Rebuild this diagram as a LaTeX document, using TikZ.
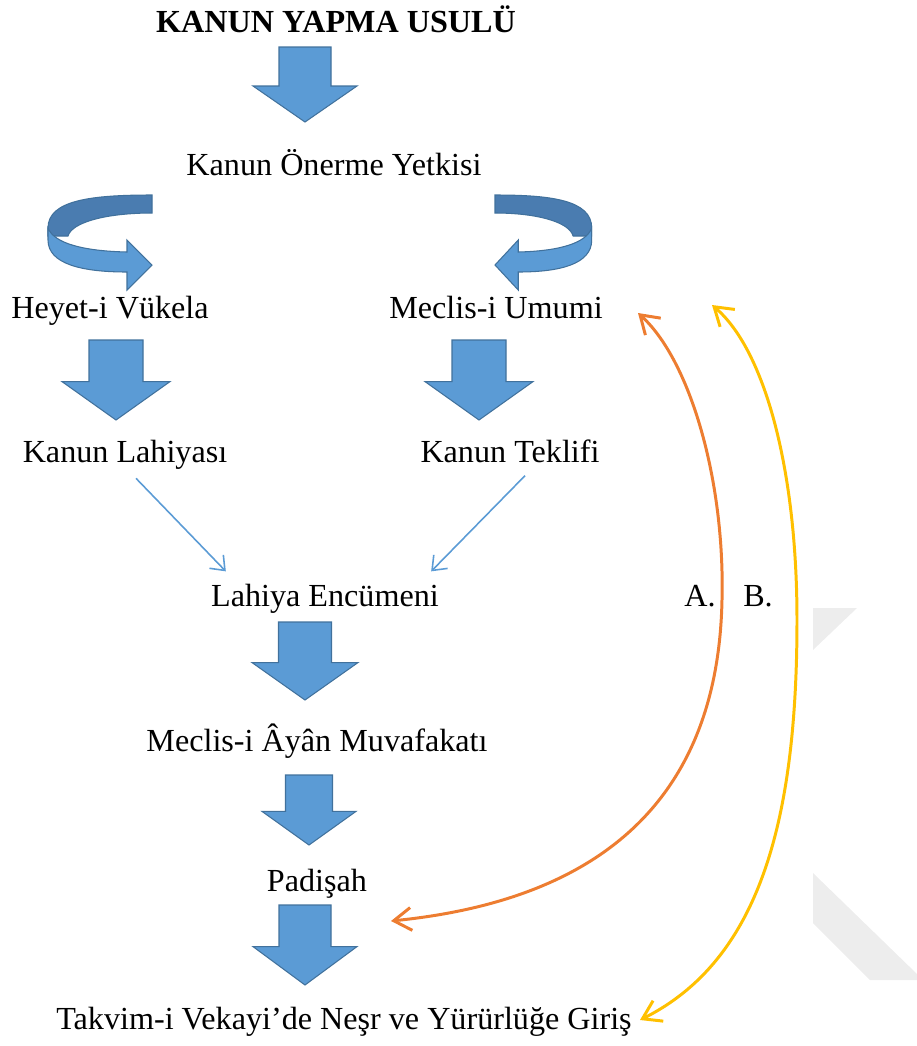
\documentclass[tikz,border=0pt]{standalone}
\usepackage{fontspec}
\setmainfont{Liberation Serif}
\usetikzlibrary{arrows.meta,calc}
\definecolor{officeblue}{HTML}{5B9BD5}
\definecolor{officeline}{HTML}{41719C}
\definecolor{ribbondark}{HTML}{4A7CB0}
\definecolor{officeorange}{HTML}{ED7D31}
\definecolor{officegold}{HTML}{FFC000}
\definecolor{markgray}{HTML}{EDEDED}
\tikzset{
lbl/.style={inner sep=0pt,anchor=base,font=\fontsize{18.3}{22}\selectfont},
blockarr/.style={fill=officeblue,draw=officeline,line width=0.6pt,line join=miter},
ribbonback/.style={fill=ribbondark,draw=officeline,line width=0.6pt},
ribbonfront/.style={fill=officeblue,draw=officeline,line width=0.6pt},
thinarr/.style={draw=officeblue,line width=0.9pt,-{Straight Barb[length=7pt,width=11pt]}},
backarr/.style={line width=1.7pt,{Straight Barb[length=10pt,width=13pt]}-{Straight Barb[length=10pt,width=13pt]}}
}
\begin{document}
\begin{tikzpicture}[x=0.02cm,y=-0.02cm]
\useasboundingbox (0,0) rectangle (917,1046);
% faint mark at the right edge
\fill[markgray] (813,608) -- (857,608) -- (813,650) -- cycle;
\fill[markgray] (813,873) -- (917,974) -- (917,980) -- (870,980) -- (813,923) -- cycle;
% texts
\node[lbl,font=\bfseries\fontsize{18.3}{22}\selectfont] (title) at (336,32) {KANUN YAPMA USULÜ};
\node[lbl] (oneri) at (334,175) {Kanun Önerme Yetkisi};
\node[lbl] (vukela) at (110,318) {Heyet-i Vükela};
\node[lbl] (umumi) at (496,318) {Meclis-i Umumi};
\node[lbl] (lahiyasi) at (125,462) {Kanun Lahiyası};
\node[lbl] (teklifi) at (510,462) {Kanun Teklifi};
\node[lbl] (encumeni) at (325,606) {Lahiya Encümeni};
\node[lbl] (ayan) at (317,751) {Meclis-i Âyân Muvafakatı};
\node[lbl] (padisah) at (317,891) {Padişah};
\node[lbl] (takvim) at (344,1029) {Takvim-i Vekayi’de Neşr ve Yürürlüğe Giriş};
\node[lbl] (yolA) at (700,606) {A.};
\node[lbl] (yolB) at (758,606) {B.};
% block arrows
\foreach \cx/\ya/\yb/\hw in {305/47/122/52,116/340/420/54,479/340/420/54,305/622/700/53,309/775/845/47,305/905/985/52}
  \draw[blockarr] ({\cx-\hw/2},\ya) -- ({\cx+\hw/2},\ya) -- ({\cx+\hw/2},{\ya+0.52*(\yb-\ya)})
    -- ({\cx+\hw},{\ya+0.52*(\yb-\ya)}) -- (\cx,\yb) -- ({\cx-\hw},{\ya+0.52*(\yb-\ya)})
    -- ({\cx-\hw/2},{\ya+0.52*(\yb-\ya)}) -- cycle;
% turning arrows
\foreach \sx/\sc in {152/1,495/-0.93}{
  \begin{scope}[shift={(\sx,0)},xscale=\sc]
    \draw[ribbonback] (0,195) .. controls (-60,195) and (-104,200) .. (-104,228) -- (-104,236)
      -- (-84,236) .. controls (-80,222) and (-45,213) .. (0,213) -- cycle;
    \draw[ribbonfront] (-104,228) .. controls (-98,243) and (-70,251) .. (-25,252) -- (-25,240)
      -- (0,265) -- (-25,290) -- (-25,272) .. controls (-70,272) and (-104,264) .. (-104,240) -- cycle;
  \end{scope}}
% thin arrows
\draw[thinarr] ($(lahiyasi.south)+(11,9)$) -- ($(encumeni.north west)+(15,-12)$);
\draw[thinarr] ($(teklifi.south)+(15,13)$) -- ($(encumeni.north east)+(-8,-12)$);
% return paths
\coordinate (aTop) at (638,313);
\coordinate (aBot) at (391,921);
\coordinate (bTop) at (712,305);
\coordinate (bBot) at (640,1020);
\draw[backarr,officeorange] (aTop) .. controls (690,360) and (725,480) .. (722,600)
  .. controls (718,800) and (600,900) .. (aBot);
\draw[backarr,officegold] (bTop) .. controls (765,350) and (797,470) .. (797,620)
  .. controls (797,820) and (760,960) .. (bBot);
\end{tikzpicture}
\end{document}
